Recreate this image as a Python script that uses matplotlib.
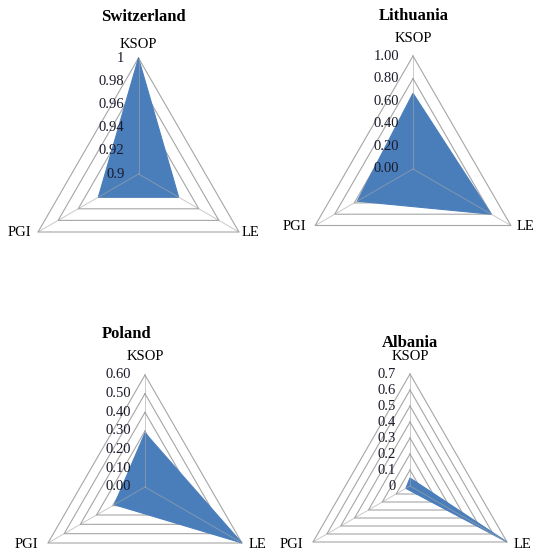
import numpy as np
import matplotlib.pyplot as plt

plt.rcParams['font.family'] = ['Liberation Serif', 'DejaVu Serif']

# axes of the radar, clockwise from the top
spokes = ['KSOP', 'LE', 'PGI']

countries = ['Switzerland', 'Lithuania', 'Poland', 'Albania']

# values in order KSOP, LE, PGI
switzerland = [1.00, 0.94, 0.94]
lithuania = [0.67, 0.80, 0.57]
poland = [0.29, 0.60, 0.19]
albania = [0.05, 0.70, 0.03]

sw_ticks = [0.90, 0.92, 0.94, 0.96, 0.98, 1.00]
sw_labels = ['0.9', '0.92', '0.94', '0.96', '0.98', '1']
lt_ticks = [0.0, 0.2, 0.4, 0.6, 0.8, 1.0]
lt_labels = ['0.00', '0.20', '0.40', '0.60', '0.80', '1.00']
pl_ticks = [0.0, 0.1, 0.2, 0.3, 0.4, 0.5, 0.6]
pl_labels = ['0.00', '0.10', '0.20', '0.30', '0.40', '0.50', '0.60']
al_ticks = [0.0, 0.1, 0.2, 0.3, 0.4, 0.5, 0.6, 0.7]
al_labels = ['0', '0.1', '0.2', '0.3', '0.4', '0.5', '0.6', '0.7']

FW, FH = 533, 553
fig = plt.figure(figsize=(FW / 100, FH / 100), dpi=100)

ang = np.radians([90, -30, 210])
FILL = '#4a7ebb'
GRID = '#a6a6a6'


def radar(cx, cy, R, title, title_off, values, ticks, labels):
    W = 2.7 * R
    ax = fig.add_axes([(cx - W / 2) / FW, 1 - (cy + W / 2) / FH, W / FW, W / FH])
    ax.set_xlim(-1.35, 1.35)
    ax.set_ylim(-1.35, 1.35)
    ax.axis('off')
    lo, hi = ticks[0], ticks[-1]

    # rings
    for t in ticks[1:]:
        r = (t - lo) / (hi - lo)
        xs = np.append(r * np.cos(ang), r * np.cos(ang[0]))
        ys = np.append(r * np.sin(ang), r * np.sin(ang[0]))
        ax.plot(xs, ys, color=GRID, lw=0.8, zorder=1)

    # data
    r = (np.array(values) - lo) / (hi - lo)
    ax.fill(r * np.cos(ang), r * np.sin(ang), facecolor=FILL, edgecolor=FILL,
            lw=0.8, zorder=2)

    # spokes
    for a in ang:
        ax.plot([0, np.cos(a)], [0, np.sin(a)], color=GRID, lw=0.7,
                alpha=0.6, zorder=3)

    # tick labels along the vertical axis
    for t, lab in zip(ticks, labels):
        ax.text(-14 / R, (t - lo) / (hi - lo), lab, ha='right', va='center',
                fontsize=10.5, color='#1a1a2a', zorder=4)

    ax.text(title_off[0] / R, title_off[1] / R, title, ha='center',
            va='center', fontsize=12, fontweight='bold')
    ax.text(0, 130 / R, spokes[0], ha='center', va='center', fontsize=10.5)
    ax.text(-119 / R, -58 / R, spokes[2], ha='center', va='center', fontsize=10.5)
    ax.text(112 / R, -58 / R, spokes[1], ha='center', va='center', fontsize=10.5)


radar(138.5, 174, 116, countries[0], (4.5, 157), switzerland, sw_ticks, sw_labels)
radar(413, 169, 113, countries[1], (0.5, 153), lithuania, lt_ticks, lt_labels)
radar(145, 487, 112, countries[2], (-18, 153), poland, pl_ticks, pl_labels)
radar(410, 486, 112, countries[3], (0, 143), albania, al_ticks, al_labels)

fig.savefig('out.png', dpi=100, facecolor='white')
